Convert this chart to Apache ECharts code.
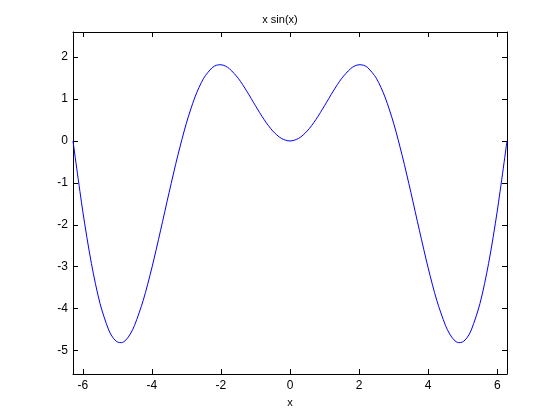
<!DOCTYPE html>
<html>
<head>
<meta charset="utf-8">
<script src="https://cdn.jsdelivr.net/npm/echarts@6/dist/echarts.min.js"></script>
<style>html,body{margin:0;padding:0;background:#fff;}#c{width:560px;height:420px;}</style>
</head>
<body>
<div id="c"></div>
<script>
var titleText = 'x sin(x)';
var xLabel = 'x';
var xTicks = [-6, -4, -2, 0, 2, 4, 6];
var yTicks = [-5, -4, -3, -2, -1, 0, 1, 2];
var xMin = -6.2832, xMax = 6.2832, yMin = -5.56, yMax = 2.6;
var xs = [-6.2832, -6.0, -5.75, -5.5, -5.25, -5.125, -5.0, -4.875, -4.75, -4.625, -4.5, -4.25, -4.0, -3.75, -3.5, -3.25, -3.0, -2.75, -2.5, -2.25, -2.125, -2.0, -1.875, -1.75, -1.5, -1.25, -1.0, -0.75, -0.5, -0.25,
  0, 0.25, 0.5, 0.75, 1.0, 1.25, 1.5, 1.75, 1.875, 2.0, 2.125, 2.25, 2.5, 2.75, 3.0, 3.25, 3.5, 3.75, 4.0, 4.25, 4.5, 4.625, 4.75, 4.875, 5.0, 5.125, 5.25, 5.5, 5.75, 6.0, 6.2832];
var ys = [0, -1.6765, -2.9227, -3.8803, -4.5092, -4.6952, -4.7946, -4.8113, -4.7467, -4.6070, -4.3988, -3.8037, -3.0272, -2.1435, -1.2277, -0.3517, 0.4234, 1.0497, 1.4962, 1.7507, 1.8082, 1.8186, 1.7889, 1.7220, 1.4962, 1.1862, 0.8415, 0.5112, 0.2397, 0.0619,
  0, 0.0619, 0.2397, 0.5112, 0.8415, 1.1862, 1.4962, 1.7220, 1.7889, 1.8186, 1.8082, 1.7507, 1.4962, 1.0497, 0.4234, -0.3517, -1.2277, -2.1435, -3.0272, -3.8037, -4.3988, -4.6070, -4.7467, -4.8113, -4.7946, -4.6952, -4.5092, -3.8803, -2.9227, -1.6765, 0];

var data = xs.map(function (x, i) { return [x, ys[i]]; });
var font = 'Liberation Sans, Arial, Helvetica, sans-serif';
var axLine = { show: true, onZero: false, lineStyle: { color: '#000', width: 1 } };
function mkX(pos, labels) {
  return {
    type: 'value', position: pos, min: xMin, max: xMax,
    axisLine: axLine,
    axisTick: { show: true, inside: true, length: 5, customValues: xTicks, lineStyle: { color: '#000' } },
    axisLabel: { show: labels, customValues: xTicks, margin: 6, color: '#000', fontSize: 12, fontFamily: font },
    splitLine: { show: false },
    name: labels ? xLabel : '', nameLocation: 'middle', nameGap: 23,
    nameTextStyle: { color: '#000', fontSize: 11, fontFamily: font }
  };
}
function mkY(pos, labels) {
  return {
    type: 'value', position: pos, min: yMin, max: yMax,
    axisLine: axLine,
    axisTick: { show: true, inside: true, length: 5, customValues: yTicks, lineStyle: { color: '#000' } },
    axisLabel: { show: labels, customValues: yTicks, margin: 5, color: '#000', fontSize: 12, fontFamily: font },
    splitLine: { show: false }
  };
}
var chart = echarts.init(document.getElementById('c'), null, { renderer: 'canvas' });
chart.setOption({
  animation: false,
  backgroundColor: '#fff',
  title: { text: titleText, left: 'center', top: 9, textStyle: { fontSize: 11, fontWeight: 'normal', color: '#000', fontFamily: font } },
  grid: { left: 73, right: 53, top: 32, bottom: 46, containLabel: false },
  xAxis: [mkX('bottom', true), mkX('top', false)],
  yAxis: [mkY('left', true), mkY('right', false)],
  series: [{
    type: 'line', xAxisIndex: 0, yAxisIndex: 0, data: data, smooth: 0.3, showSymbol: false,
    lineStyle: { color: '#0000ff', width: 1 }
  }]
});
</script>
</body>
</html>
